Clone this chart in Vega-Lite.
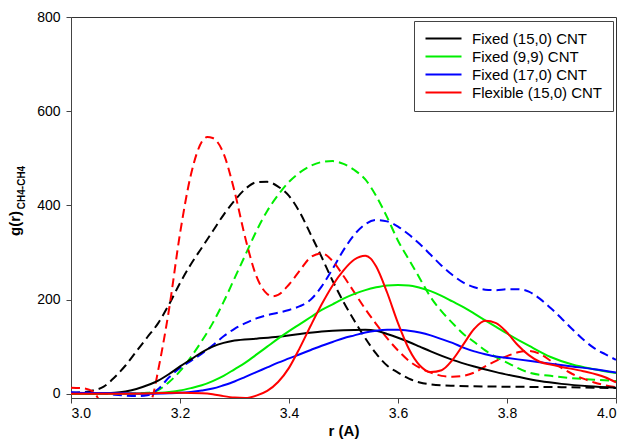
{
  "$schema": "https://vega.github.io/schema/vega-lite/v6.json",
  "width": 545,
  "height": 381,
  "autosize": {"type": "none"},
  "padding": {"left": 71, "top": 17, "right": 11, "bottom": 45},
  "background": "white",
  "config": {
    "font": "Liberation Sans",
    "view": {"stroke": "#333333", "strokeWidth": 1},
    "axis": {"grid": false, "domainColor": "#444444", "tickColor": "#444444", "tickSize": 5, "labelFontSize": 14, "labelColor": "black", "titleColor": "black", "labelFont": "Liberation Sans", "titleFont": "Liberation Sans"}
  },
  "datasets": {
    "curves": [
      {"series": "Fixed (15,0) CNT", "kind": "solid", "r": 3.00, "g": 0},
      {"series": "Fixed (15,0) CNT", "kind": "solid", "r": 3.04, "g": 0},
      {"series": "Fixed (15,0) CNT", "kind": "solid", "r": 3.08, "g": 2},
      {"series": "Fixed (15,0) CNT", "kind": "solid", "r": 3.10, "g": 5},
      {"series": "Fixed (15,0) CNT", "kind": "solid", "r": 3.12, "g": 10},
      {"series": "Fixed (15,0) CNT", "kind": "solid", "r": 3.14, "g": 18},
      {"series": "Fixed (15,0) CNT", "kind": "solid", "r": 3.16, "g": 28},
      {"series": "Fixed (15,0) CNT", "kind": "solid", "r": 3.18, "g": 42},
      {"series": "Fixed (15,0) CNT", "kind": "solid", "r": 3.20, "g": 58},
      {"series": "Fixed (15,0) CNT", "kind": "solid", "r": 3.22, "g": 73},
      {"series": "Fixed (15,0) CNT", "kind": "solid", "r": 3.24, "g": 88},
      {"series": "Fixed (15,0) CNT", "kind": "solid", "r": 3.26, "g": 100},
      {"series": "Fixed (15,0) CNT", "kind": "solid", "r": 3.28, "g": 108},
      {"series": "Fixed (15,0) CNT", "kind": "solid", "r": 3.30, "g": 113},
      {"series": "Fixed (15,0) CNT", "kind": "solid", "r": 3.34, "g": 117},
      {"series": "Fixed (15,0) CNT", "kind": "solid", "r": 3.38, "g": 121},
      {"series": "Fixed (15,0) CNT", "kind": "solid", "r": 3.42, "g": 127},
      {"series": "Fixed (15,0) CNT", "kind": "solid", "r": 3.46, "g": 132},
      {"series": "Fixed (15,0) CNT", "kind": "solid", "r": 3.50, "g": 135},
      {"series": "Fixed (15,0) CNT", "kind": "solid", "r": 3.54, "g": 136},
      {"series": "Fixed (15,0) CNT", "kind": "solid", "r": 3.56, "g": 134},
      {"series": "Fixed (15,0) CNT", "kind": "solid", "r": 3.58, "g": 127},
      {"series": "Fixed (15,0) CNT", "kind": "solid", "r": 3.60, "g": 119},
      {"series": "Fixed (15,0) CNT", "kind": "solid", "r": 3.62, "g": 110},
      {"series": "Fixed (15,0) CNT", "kind": "solid", "r": 3.64, "g": 100},
      {"series": "Fixed (15,0) CNT", "kind": "solid", "r": 3.66, "g": 90},
      {"series": "Fixed (15,0) CNT", "kind": "solid", "r": 3.70, "g": 72},
      {"series": "Fixed (15,0) CNT", "kind": "solid", "r": 3.74, "g": 58},
      {"series": "Fixed (15,0) CNT", "kind": "solid", "r": 3.78, "g": 46},
      {"series": "Fixed (15,0) CNT", "kind": "solid", "r": 3.82, "g": 36},
      {"series": "Fixed (15,0) CNT", "kind": "solid", "r": 3.86, "g": 27},
      {"series": "Fixed (15,0) CNT", "kind": "solid", "r": 3.90, "g": 21},
      {"series": "Fixed (15,0) CNT", "kind": "solid", "r": 3.95, "g": 16},
      {"series": "Fixed (15,0) CNT", "kind": "solid", "r": 4.00, "g": 13},

      {"series": "Fixed (9,9) CNT", "kind": "solid", "r": 3.00, "g": 0},
      {"series": "Fixed (9,9) CNT", "kind": "solid", "r": 3.10, "g": 0},
      {"series": "Fixed (9,9) CNT", "kind": "solid", "r": 3.14, "g": 1},
      {"series": "Fixed (9,9) CNT", "kind": "solid", "r": 3.18, "g": 4},
      {"series": "Fixed (9,9) CNT", "kind": "solid", "r": 3.20, "g": 7},
      {"series": "Fixed (9,9) CNT", "kind": "solid", "r": 3.22, "g": 12},
      {"series": "Fixed (9,9) CNT", "kind": "solid", "r": 3.24, "g": 18},
      {"series": "Fixed (9,9) CNT", "kind": "solid", "r": 3.26, "g": 27},
      {"series": "Fixed (9,9) CNT", "kind": "solid", "r": 3.28, "g": 38},
      {"series": "Fixed (9,9) CNT", "kind": "solid", "r": 3.30, "g": 52},
      {"series": "Fixed (9,9) CNT", "kind": "solid", "r": 3.32, "g": 66},
      {"series": "Fixed (9,9) CNT", "kind": "solid", "r": 3.34, "g": 83},
      {"series": "Fixed (9,9) CNT", "kind": "solid", "r": 3.36, "g": 100},
      {"series": "Fixed (9,9) CNT", "kind": "solid", "r": 3.38, "g": 117},
      {"series": "Fixed (9,9) CNT", "kind": "solid", "r": 3.40, "g": 133},
      {"series": "Fixed (9,9) CNT", "kind": "solid", "r": 3.42, "g": 148},
      {"series": "Fixed (9,9) CNT", "kind": "solid", "r": 3.44, "g": 163},
      {"series": "Fixed (9,9) CNT", "kind": "solid", "r": 3.46, "g": 178},
      {"series": "Fixed (9,9) CNT", "kind": "solid", "r": 3.48, "g": 190},
      {"series": "Fixed (9,9) CNT", "kind": "solid", "r": 3.50, "g": 202},
      {"series": "Fixed (9,9) CNT", "kind": "solid", "r": 3.52, "g": 212},
      {"series": "Fixed (9,9) CNT", "kind": "solid", "r": 3.54, "g": 220},
      {"series": "Fixed (9,9) CNT", "kind": "solid", "r": 3.56, "g": 226},
      {"series": "Fixed (9,9) CNT", "kind": "solid", "r": 3.58, "g": 230},
      {"series": "Fixed (9,9) CNT", "kind": "solid", "r": 3.60, "g": 231},
      {"series": "Fixed (9,9) CNT", "kind": "solid", "r": 3.62, "g": 230},
      {"series": "Fixed (9,9) CNT", "kind": "solid", "r": 3.64, "g": 225},
      {"series": "Fixed (9,9) CNT", "kind": "solid", "r": 3.66, "g": 218},
      {"series": "Fixed (9,9) CNT", "kind": "solid", "r": 3.68, "g": 208},
      {"series": "Fixed (9,9) CNT", "kind": "solid", "r": 3.70, "g": 196},
      {"series": "Fixed (9,9) CNT", "kind": "solid", "r": 3.72, "g": 184},
      {"series": "Fixed (9,9) CNT", "kind": "solid", "r": 3.74, "g": 170},
      {"series": "Fixed (9,9) CNT", "kind": "solid", "r": 3.76, "g": 156},
      {"series": "Fixed (9,9) CNT", "kind": "solid", "r": 3.78, "g": 142},
      {"series": "Fixed (9,9) CNT", "kind": "solid", "r": 3.80, "g": 128},
      {"series": "Fixed (9,9) CNT", "kind": "solid", "r": 3.84, "g": 102},
      {"series": "Fixed (9,9) CNT", "kind": "solid", "r": 3.88, "g": 78},
      {"series": "Fixed (9,9) CNT", "kind": "solid", "r": 3.92, "g": 62},
      {"series": "Fixed (9,9) CNT", "kind": "solid", "r": 3.96, "g": 52},
      {"series": "Fixed (9,9) CNT", "kind": "solid", "r": 4.00, "g": 44},

      {"series": "Fixed (17,0) CNT", "kind": "solid", "r": 3.00, "g": 2},
      {"series": "Fixed (17,0) CNT", "kind": "solid", "r": 3.10, "g": 1},
      {"series": "Fixed (17,0) CNT", "kind": "solid", "r": 3.14, "g": 0},
      {"series": "Fixed (17,0) CNT", "kind": "solid", "r": 3.18, "g": 1},
      {"series": "Fixed (17,0) CNT", "kind": "solid", "r": 3.20, "g": 2},
      {"series": "Fixed (17,0) CNT", "kind": "solid", "r": 3.22, "g": 4},
      {"series": "Fixed (17,0) CNT", "kind": "solid", "r": 3.24, "g": 7},
      {"series": "Fixed (17,0) CNT", "kind": "solid", "r": 3.26, "g": 11},
      {"series": "Fixed (17,0) CNT", "kind": "solid", "r": 3.28, "g": 18},
      {"series": "Fixed (17,0) CNT", "kind": "solid", "r": 3.30, "g": 26},
      {"series": "Fixed (17,0) CNT", "kind": "solid", "r": 3.32, "g": 36},
      {"series": "Fixed (17,0) CNT", "kind": "solid", "r": 3.34, "g": 46},
      {"series": "Fixed (17,0) CNT", "kind": "solid", "r": 3.36, "g": 56},
      {"series": "Fixed (17,0) CNT", "kind": "solid", "r": 3.38, "g": 66},
      {"series": "Fixed (17,0) CNT", "kind": "solid", "r": 3.40, "g": 75},
      {"series": "Fixed (17,0) CNT", "kind": "solid", "r": 3.42, "g": 84},
      {"series": "Fixed (17,0) CNT", "kind": "solid", "r": 3.44, "g": 93},
      {"series": "Fixed (17,0) CNT", "kind": "solid", "r": 3.46, "g": 102},
      {"series": "Fixed (17,0) CNT", "kind": "solid", "r": 3.48, "g": 110},
      {"series": "Fixed (17,0) CNT", "kind": "solid", "r": 3.50, "g": 118},
      {"series": "Fixed (17,0) CNT", "kind": "solid", "r": 3.52, "g": 124},
      {"series": "Fixed (17,0) CNT", "kind": "solid", "r": 3.54, "g": 130},
      {"series": "Fixed (17,0) CNT", "kind": "solid", "r": 3.56, "g": 134},
      {"series": "Fixed (17,0) CNT", "kind": "solid", "r": 3.58, "g": 136},
      {"series": "Fixed (17,0) CNT", "kind": "solid", "r": 3.60, "g": 136},
      {"series": "Fixed (17,0) CNT", "kind": "solid", "r": 3.62, "g": 134},
      {"series": "Fixed (17,0) CNT", "kind": "solid", "r": 3.64, "g": 130},
      {"series": "Fixed (17,0) CNT", "kind": "solid", "r": 3.66, "g": 124},
      {"series": "Fixed (17,0) CNT", "kind": "solid", "r": 3.68, "g": 116},
      {"series": "Fixed (17,0) CNT", "kind": "solid", "r": 3.70, "g": 108},
      {"series": "Fixed (17,0) CNT", "kind": "solid", "r": 3.72, "g": 98},
      {"series": "Fixed (17,0) CNT", "kind": "solid", "r": 3.74, "g": 90},
      {"series": "Fixed (17,0) CNT", "kind": "solid", "r": 3.76, "g": 84},
      {"series": "Fixed (17,0) CNT", "kind": "solid", "r": 3.78, "g": 79},
      {"series": "Fixed (17,0) CNT", "kind": "solid", "r": 3.80, "g": 76},
      {"series": "Fixed (17,0) CNT", "kind": "solid", "r": 3.84, "g": 70},
      {"series": "Fixed (17,0) CNT", "kind": "solid", "r": 3.88, "g": 64},
      {"series": "Fixed (17,0) CNT", "kind": "solid", "r": 3.92, "g": 58},
      {"series": "Fixed (17,0) CNT", "kind": "solid", "r": 3.96, "g": 52},
      {"series": "Fixed (17,0) CNT", "kind": "solid", "r": 4.00, "g": 45},

      {"series": "Flexible (15,0) CNT", "kind": "solid", "r": 3.00, "g": 0},
      {"series": "Flexible (15,0) CNT", "kind": "solid", "r": 3.10, "g": 0},
      {"series": "Flexible (15,0) CNT", "kind": "solid", "r": 3.20, "g": 2},
      {"series": "Flexible (15,0) CNT", "kind": "solid", "r": 3.24, "g": 1},
      {"series": "Flexible (15,0) CNT", "kind": "solid", "r": 3.26, "g": -1},
      {"series": "Flexible (15,0) CNT", "kind": "solid", "r": 3.28, "g": -5},
      {"series": "Flexible (15,0) CNT", "kind": "solid", "r": 3.30, "g": -8},
      {"series": "Flexible (15,0) CNT", "kind": "solid", "r": 3.32, "g": -9},
      {"series": "Flexible (15,0) CNT", "kind": "solid", "r": 3.34, "g": -4},
      {"series": "Flexible (15,0) CNT", "kind": "solid", "r": 3.36, "g": 6},
      {"series": "Flexible (15,0) CNT", "kind": "solid", "r": 3.38, "g": 25},
      {"series": "Flexible (15,0) CNT", "kind": "solid", "r": 3.40, "g": 55},
      {"series": "Flexible (15,0) CNT", "kind": "solid", "r": 3.42, "g": 98},
      {"series": "Flexible (15,0) CNT", "kind": "solid", "r": 3.44, "g": 145},
      {"series": "Flexible (15,0) CNT", "kind": "solid", "r": 3.46, "g": 190},
      {"series": "Flexible (15,0) CNT", "kind": "solid", "r": 3.48, "g": 230},
      {"series": "Flexible (15,0) CNT", "kind": "solid", "r": 3.50, "g": 262},
      {"series": "Flexible (15,0) CNT", "kind": "solid", "r": 3.52, "g": 285},
      {"series": "Flexible (15,0) CNT", "kind": "solid", "r": 3.54, "g": 293},
      {"series": "Flexible (15,0) CNT", "kind": "solid", "r": 3.55, "g": 287},
      {"series": "Flexible (15,0) CNT", "kind": "solid", "r": 3.56, "g": 270},
      {"series": "Flexible (15,0) CNT", "kind": "solid", "r": 3.58, "g": 215},
      {"series": "Flexible (15,0) CNT", "kind": "solid", "r": 3.60, "g": 150},
      {"series": "Flexible (15,0) CNT", "kind": "solid", "r": 3.62, "g": 95},
      {"series": "Flexible (15,0) CNT", "kind": "solid", "r": 3.64, "g": 60},
      {"series": "Flexible (15,0) CNT", "kind": "solid", "r": 3.66, "g": 46},
      {"series": "Flexible (15,0) CNT", "kind": "solid", "r": 3.68, "g": 50},
      {"series": "Flexible (15,0) CNT", "kind": "solid", "r": 3.70, "g": 72},
      {"series": "Flexible (15,0) CNT", "kind": "solid", "r": 3.72, "g": 105},
      {"series": "Flexible (15,0) CNT", "kind": "solid", "r": 3.74, "g": 138},
      {"series": "Flexible (15,0) CNT", "kind": "solid", "r": 3.76, "g": 155},
      {"series": "Flexible (15,0) CNT", "kind": "solid", "r": 3.78, "g": 150},
      {"series": "Flexible (15,0) CNT", "kind": "solid", "r": 3.80, "g": 130},
      {"series": "Flexible (15,0) CNT", "kind": "solid", "r": 3.82, "g": 103},
      {"series": "Flexible (15,0) CNT", "kind": "solid", "r": 3.84, "g": 82},
      {"series": "Flexible (15,0) CNT", "kind": "solid", "r": 3.86, "g": 68},
      {"series": "Flexible (15,0) CNT", "kind": "solid", "r": 3.88, "g": 62},
      {"series": "Flexible (15,0) CNT", "kind": "solid", "r": 3.90, "g": 57},
      {"series": "Flexible (15,0) CNT", "kind": "solid", "r": 3.94, "g": 48},
      {"series": "Flexible (15,0) CNT", "kind": "solid", "r": 3.98, "g": 35},
      {"series": "Flexible (15,0) CNT", "kind": "solid", "r": 4.00, "g": 24},

      {"series": "Fixed (15,0) CNT", "kind": "dashed", "r": 3.00, "g": 2},
      {"series": "Fixed (15,0) CNT", "kind": "dashed", "r": 3.02, "g": 3},
      {"series": "Fixed (15,0) CNT", "kind": "dashed", "r": 3.04, "g": 7},
      {"series": "Fixed (15,0) CNT", "kind": "dashed", "r": 3.06, "g": 15},
      {"series": "Fixed (15,0) CNT", "kind": "dashed", "r": 3.08, "g": 35},
      {"series": "Fixed (15,0) CNT", "kind": "dashed", "r": 3.10, "g": 60},
      {"series": "Fixed (15,0) CNT", "kind": "dashed", "r": 3.12, "g": 90},
      {"series": "Fixed (15,0) CNT", "kind": "dashed", "r": 3.14, "g": 120},
      {"series": "Fixed (15,0) CNT", "kind": "dashed", "r": 3.16, "g": 150},
      {"series": "Fixed (15,0) CNT", "kind": "dashed", "r": 3.18, "g": 190},
      {"series": "Fixed (15,0) CNT", "kind": "dashed", "r": 3.20, "g": 235},
      {"series": "Fixed (15,0) CNT", "kind": "dashed", "r": 3.22, "g": 275},
      {"series": "Fixed (15,0) CNT", "kind": "dashed", "r": 3.24, "g": 310},
      {"series": "Fixed (15,0) CNT", "kind": "dashed", "r": 3.26, "g": 345},
      {"series": "Fixed (15,0) CNT", "kind": "dashed", "r": 3.28, "g": 380},
      {"series": "Fixed (15,0) CNT", "kind": "dashed", "r": 3.30, "g": 410},
      {"series": "Fixed (15,0) CNT", "kind": "dashed", "r": 3.32, "g": 435},
      {"series": "Fixed (15,0) CNT", "kind": "dashed", "r": 3.34, "g": 449},
      {"series": "Fixed (15,0) CNT", "kind": "dashed", "r": 3.36, "g": 450},
      {"series": "Fixed (15,0) CNT", "kind": "dashed", "r": 3.38, "g": 440},
      {"series": "Fixed (15,0) CNT", "kind": "dashed", "r": 3.40, "g": 420},
      {"series": "Fixed (15,0) CNT", "kind": "dashed", "r": 3.42, "g": 385},
      {"series": "Fixed (15,0) CNT", "kind": "dashed", "r": 3.44, "g": 338},
      {"series": "Fixed (15,0) CNT", "kind": "dashed", "r": 3.46, "g": 290},
      {"series": "Fixed (15,0) CNT", "kind": "dashed", "r": 3.48, "g": 240},
      {"series": "Fixed (15,0) CNT", "kind": "dashed", "r": 3.50, "g": 195},
      {"series": "Fixed (15,0) CNT", "kind": "dashed", "r": 3.52, "g": 155},
      {"series": "Fixed (15,0) CNT", "kind": "dashed", "r": 3.54, "g": 118},
      {"series": "Fixed (15,0) CNT", "kind": "dashed", "r": 3.56, "g": 85},
      {"series": "Fixed (15,0) CNT", "kind": "dashed", "r": 3.58, "g": 60},
      {"series": "Fixed (15,0) CNT", "kind": "dashed", "r": 3.60, "g": 45},
      {"series": "Fixed (15,0) CNT", "kind": "dashed", "r": 3.62, "g": 32},
      {"series": "Fixed (15,0) CNT", "kind": "dashed", "r": 3.64, "g": 24},
      {"series": "Fixed (15,0) CNT", "kind": "dashed", "r": 3.66, "g": 20},
      {"series": "Fixed (15,0) CNT", "kind": "dashed", "r": 3.70, "g": 17},
      {"series": "Fixed (15,0) CNT", "kind": "dashed", "r": 3.80, "g": 15},
      {"series": "Fixed (15,0) CNT", "kind": "dashed", "r": 3.90, "g": 14},
      {"series": "Fixed (15,0) CNT", "kind": "dashed", "r": 4.00, "g": 12},

      {"series": "Fixed (9,9) CNT", "kind": "dashed", "r": 3.00, "g": 0},
      {"series": "Fixed (9,9) CNT", "kind": "dashed", "r": 3.10, "g": 0},
      {"series": "Fixed (9,9) CNT", "kind": "dashed", "r": 3.14, "g": 2},
      {"series": "Fixed (9,9) CNT", "kind": "dashed", "r": 3.16, "g": 8},
      {"series": "Fixed (9,9) CNT", "kind": "dashed", "r": 3.18, "g": 25},
      {"series": "Fixed (9,9) CNT", "kind": "dashed", "r": 3.20, "g": 48},
      {"series": "Fixed (9,9) CNT", "kind": "dashed", "r": 3.22, "g": 78},
      {"series": "Fixed (9,9) CNT", "kind": "dashed", "r": 3.24, "g": 112},
      {"series": "Fixed (9,9) CNT", "kind": "dashed", "r": 3.26, "g": 150},
      {"series": "Fixed (9,9) CNT", "kind": "dashed", "r": 3.28, "g": 195},
      {"series": "Fixed (9,9) CNT", "kind": "dashed", "r": 3.30, "g": 245},
      {"series": "Fixed (9,9) CNT", "kind": "dashed", "r": 3.32, "g": 295},
      {"series": "Fixed (9,9) CNT", "kind": "dashed", "r": 3.34, "g": 345},
      {"series": "Fixed (9,9) CNT", "kind": "dashed", "r": 3.36, "g": 388},
      {"series": "Fixed (9,9) CNT", "kind": "dashed", "r": 3.38, "g": 422},
      {"series": "Fixed (9,9) CNT", "kind": "dashed", "r": 3.40, "g": 450},
      {"series": "Fixed (9,9) CNT", "kind": "dashed", "r": 3.42, "g": 470},
      {"series": "Fixed (9,9) CNT", "kind": "dashed", "r": 3.44, "g": 484},
      {"series": "Fixed (9,9) CNT", "kind": "dashed", "r": 3.46, "g": 492},
      {"series": "Fixed (9,9) CNT", "kind": "dashed", "r": 3.48, "g": 494},
      {"series": "Fixed (9,9) CNT", "kind": "dashed", "r": 3.50, "g": 488},
      {"series": "Fixed (9,9) CNT", "kind": "dashed", "r": 3.52, "g": 475},
      {"series": "Fixed (9,9) CNT", "kind": "dashed", "r": 3.54, "g": 455},
      {"series": "Fixed (9,9) CNT", "kind": "dashed", "r": 3.56, "g": 420},
      {"series": "Fixed (9,9) CNT", "kind": "dashed", "r": 3.58, "g": 375},
      {"series": "Fixed (9,9) CNT", "kind": "dashed", "r": 3.60, "g": 325},
      {"series": "Fixed (9,9) CNT", "kind": "dashed", "r": 3.62, "g": 285},
      {"series": "Fixed (9,9) CNT", "kind": "dashed", "r": 3.64, "g": 245},
      {"series": "Fixed (9,9) CNT", "kind": "dashed", "r": 3.66, "g": 205},
      {"series": "Fixed (9,9) CNT", "kind": "dashed", "r": 3.68, "g": 175},
      {"series": "Fixed (9,9) CNT", "kind": "dashed", "r": 3.70, "g": 150},
      {"series": "Fixed (9,9) CNT", "kind": "dashed", "r": 3.72, "g": 127},
      {"series": "Fixed (9,9) CNT", "kind": "dashed", "r": 3.74, "g": 110},
      {"series": "Fixed (9,9) CNT", "kind": "dashed", "r": 3.76, "g": 92},
      {"series": "Fixed (9,9) CNT", "kind": "dashed", "r": 3.78, "g": 78},
      {"series": "Fixed (9,9) CNT", "kind": "dashed", "r": 3.80, "g": 66},
      {"series": "Fixed (9,9) CNT", "kind": "dashed", "r": 3.84, "g": 45},
      {"series": "Fixed (9,9) CNT", "kind": "dashed", "r": 3.88, "g": 38},
      {"series": "Fixed (9,9) CNT", "kind": "dashed", "r": 3.92, "g": 33},
      {"series": "Fixed (9,9) CNT", "kind": "dashed", "r": 3.96, "g": 30},
      {"series": "Fixed (9,9) CNT", "kind": "dashed", "r": 4.00, "g": 27},

      {"series": "Fixed (17,0) CNT", "kind": "dashed", "r": 3.00, "g": 3},
      {"series": "Fixed (17,0) CNT", "kind": "dashed", "r": 3.04, "g": 2},
      {"series": "Fixed (17,0) CNT", "kind": "dashed", "r": 3.08, "g": -2},
      {"series": "Fixed (17,0) CNT", "kind": "dashed", "r": 3.10, "g": -4},
      {"series": "Fixed (17,0) CNT", "kind": "dashed", "r": 3.12, "g": -5},
      {"series": "Fixed (17,0) CNT", "kind": "dashed", "r": 3.14, "g": -3},
      {"series": "Fixed (17,0) CNT", "kind": "dashed", "r": 3.16, "g": 10},
      {"series": "Fixed (17,0) CNT", "kind": "dashed", "r": 3.18, "g": 35},
      {"series": "Fixed (17,0) CNT", "kind": "dashed", "r": 3.20, "g": 55},
      {"series": "Fixed (17,0) CNT", "kind": "dashed", "r": 3.22, "g": 70},
      {"series": "Fixed (17,0) CNT", "kind": "dashed", "r": 3.24, "g": 85},
      {"series": "Fixed (17,0) CNT", "kind": "dashed", "r": 3.26, "g": 103},
      {"series": "Fixed (17,0) CNT", "kind": "dashed", "r": 3.28, "g": 122},
      {"series": "Fixed (17,0) CNT", "kind": "dashed", "r": 3.30, "g": 138},
      {"series": "Fixed (17,0) CNT", "kind": "dashed", "r": 3.32, "g": 150},
      {"series": "Fixed (17,0) CNT", "kind": "dashed", "r": 3.34, "g": 160},
      {"series": "Fixed (17,0) CNT", "kind": "dashed", "r": 3.36, "g": 167},
      {"series": "Fixed (17,0) CNT", "kind": "dashed", "r": 3.38, "g": 172},
      {"series": "Fixed (17,0) CNT", "kind": "dashed", "r": 3.40, "g": 178},
      {"series": "Fixed (17,0) CNT", "kind": "dashed", "r": 3.42, "g": 186},
      {"series": "Fixed (17,0) CNT", "kind": "dashed", "r": 3.44, "g": 200},
      {"series": "Fixed (17,0) CNT", "kind": "dashed", "r": 3.46, "g": 228},
      {"series": "Fixed (17,0) CNT", "kind": "dashed", "r": 3.48, "g": 265},
      {"series": "Fixed (17,0) CNT", "kind": "dashed", "r": 3.50, "g": 305},
      {"series": "Fixed (17,0) CNT", "kind": "dashed", "r": 3.52, "g": 338},
      {"series": "Fixed (17,0) CNT", "kind": "dashed", "r": 3.54, "g": 360},
      {"series": "Fixed (17,0) CNT", "kind": "dashed", "r": 3.56, "g": 369},
      {"series": "Fixed (17,0) CNT", "kind": "dashed", "r": 3.58, "g": 366},
      {"series": "Fixed (17,0) CNT", "kind": "dashed", "r": 3.60, "g": 355},
      {"series": "Fixed (17,0) CNT", "kind": "dashed", "r": 3.62, "g": 338},
      {"series": "Fixed (17,0) CNT", "kind": "dashed", "r": 3.64, "g": 318},
      {"series": "Fixed (17,0) CNT", "kind": "dashed", "r": 3.66, "g": 295},
      {"series": "Fixed (17,0) CNT", "kind": "dashed", "r": 3.68, "g": 272},
      {"series": "Fixed (17,0) CNT", "kind": "dashed", "r": 3.70, "g": 252},
      {"series": "Fixed (17,0) CNT", "kind": "dashed", "r": 3.72, "g": 236},
      {"series": "Fixed (17,0) CNT", "kind": "dashed", "r": 3.74, "g": 226},
      {"series": "Fixed (17,0) CNT", "kind": "dashed", "r": 3.76, "g": 221},
      {"series": "Fixed (17,0) CNT", "kind": "dashed", "r": 3.78, "g": 220},
      {"series": "Fixed (17,0) CNT", "kind": "dashed", "r": 3.80, "g": 222},
      {"series": "Fixed (17,0) CNT", "kind": "dashed", "r": 3.82, "g": 222},
      {"series": "Fixed (17,0) CNT", "kind": "dashed", "r": 3.84, "g": 217},
      {"series": "Fixed (17,0) CNT", "kind": "dashed", "r": 3.86, "g": 202},
      {"series": "Fixed (17,0) CNT", "kind": "dashed", "r": 3.88, "g": 182},
      {"series": "Fixed (17,0) CNT", "kind": "dashed", "r": 3.90, "g": 160},
      {"series": "Fixed (17,0) CNT", "kind": "dashed", "r": 3.92, "g": 137},
      {"series": "Fixed (17,0) CNT", "kind": "dashed", "r": 3.94, "g": 115},
      {"series": "Fixed (17,0) CNT", "kind": "dashed", "r": 3.96, "g": 97},
      {"series": "Fixed (17,0) CNT", "kind": "dashed", "r": 3.98, "g": 84},
      {"series": "Fixed (17,0) CNT", "kind": "dashed", "r": 4.00, "g": 72},

      {"series": "Flexible (15,0) CNT", "kind": "dashed", "r": 3.00, "g": 13},
      {"series": "Flexible (15,0) CNT", "kind": "dashed", "r": 3.02, "g": 12},
      {"series": "Flexible (15,0) CNT", "kind": "dashed", "r": 3.04, "g": 5},
      {"series": "Flexible (15,0) CNT", "kind": "dashed", "r": 3.05, "g": -10},
      {"series": "Flexible (15,0) CNT", "kind": "dashed", "r": 3.06, "g": -30},
      {"series": "Flexible (15,0) CNT", "kind": "dashed", "r": 3.14, "g": -30},
      {"series": "Flexible (15,0) CNT", "kind": "dashed", "r": 3.15, "g": -5},
      {"series": "Flexible (15,0) CNT", "kind": "dashed", "r": 3.16, "g": 50},
      {"series": "Flexible (15,0) CNT", "kind": "dashed", "r": 3.18, "g": 180},
      {"series": "Flexible (15,0) CNT", "kind": "dashed", "r": 3.20, "g": 340},
      {"series": "Flexible (15,0) CNT", "kind": "dashed", "r": 3.22, "g": 465},
      {"series": "Flexible (15,0) CNT", "kind": "dashed", "r": 3.24, "g": 535},
      {"series": "Flexible (15,0) CNT", "kind": "dashed", "r": 3.25, "g": 545},
      {"series": "Flexible (15,0) CNT", "kind": "dashed", "r": 3.26, "g": 543},
      {"series": "Flexible (15,0) CNT", "kind": "dashed", "r": 3.28, "g": 510},
      {"series": "Flexible (15,0) CNT", "kind": "dashed", "r": 3.30, "g": 430},
      {"series": "Flexible (15,0) CNT", "kind": "dashed", "r": 3.32, "g": 330},
      {"series": "Flexible (15,0) CNT", "kind": "dashed", "r": 3.34, "g": 250},
      {"series": "Flexible (15,0) CNT", "kind": "dashed", "r": 3.36, "g": 212},
      {"series": "Flexible (15,0) CNT", "kind": "dashed", "r": 3.37, "g": 207},
      {"series": "Flexible (15,0) CNT", "kind": "dashed", "r": 3.38, "g": 210},
      {"series": "Flexible (15,0) CNT", "kind": "dashed", "r": 3.40, "g": 232},
      {"series": "Flexible (15,0) CNT", "kind": "dashed", "r": 3.42, "g": 262},
      {"series": "Flexible (15,0) CNT", "kind": "dashed", "r": 3.44, "g": 290},
      {"series": "Flexible (15,0) CNT", "kind": "dashed", "r": 3.46, "g": 298},
      {"series": "Flexible (15,0) CNT", "kind": "dashed", "r": 3.48, "g": 282},
      {"series": "Flexible (15,0) CNT", "kind": "dashed", "r": 3.50, "g": 250},
      {"series": "Flexible (15,0) CNT", "kind": "dashed", "r": 3.52, "g": 215},
      {"series": "Flexible (15,0) CNT", "kind": "dashed", "r": 3.54, "g": 180},
      {"series": "Flexible (15,0) CNT", "kind": "dashed", "r": 3.56, "g": 148},
      {"series": "Flexible (15,0) CNT", "kind": "dashed", "r": 3.58, "g": 118},
      {"series": "Flexible (15,0) CNT", "kind": "dashed", "r": 3.60, "g": 92},
      {"series": "Flexible (15,0) CNT", "kind": "dashed", "r": 3.62, "g": 70},
      {"series": "Flexible (15,0) CNT", "kind": "dashed", "r": 3.64, "g": 55},
      {"series": "Flexible (15,0) CNT", "kind": "dashed", "r": 3.66, "g": 45},
      {"series": "Flexible (15,0) CNT", "kind": "dashed", "r": 3.68, "g": 38},
      {"series": "Flexible (15,0) CNT", "kind": "dashed", "r": 3.70, "g": 36},
      {"series": "Flexible (15,0) CNT", "kind": "dashed", "r": 3.72, "g": 38},
      {"series": "Flexible (15,0) CNT", "kind": "dashed", "r": 3.74, "g": 45},
      {"series": "Flexible (15,0) CNT", "kind": "dashed", "r": 3.76, "g": 58},
      {"series": "Flexible (15,0) CNT", "kind": "dashed", "r": 3.78, "g": 70},
      {"series": "Flexible (15,0) CNT", "kind": "dashed", "r": 3.80, "g": 80},
      {"series": "Flexible (15,0) CNT", "kind": "dashed", "r": 3.82, "g": 88},
      {"series": "Flexible (15,0) CNT", "kind": "dashed", "r": 3.84, "g": 91},
      {"series": "Flexible (15,0) CNT", "kind": "dashed", "r": 3.86, "g": 85},
      {"series": "Flexible (15,0) CNT", "kind": "dashed", "r": 3.88, "g": 70},
      {"series": "Flexible (15,0) CNT", "kind": "dashed", "r": 3.90, "g": 55},
      {"series": "Flexible (15,0) CNT", "kind": "dashed", "r": 3.92, "g": 42},
      {"series": "Flexible (15,0) CNT", "kind": "dashed", "r": 3.94, "g": 32},
      {"series": "Flexible (15,0) CNT", "kind": "dashed", "r": 3.96, "g": 24},
      {"series": "Flexible (15,0) CNT", "kind": "dashed", "r": 3.98, "g": 18},
      {"series": "Flexible (15,0) CNT", "kind": "dashed", "r": 4.00, "g": 14}
    ]
  },
  "data": {"name": "curves"},
  "layer": [
    {
      "transform": [{"filter": "datum.kind === 'dashed'"}],
      "mark": {"type": "line", "interpolate": "monotone", "strokeWidth": 2, "strokeDash": [9, 5], "clip": true},
      "encoding": {
        "x": {"field": "r", "type": "quantitative", "scale": {"domain": [3.0, 4.0], "nice": false, "zero": false},
              "axis": {"values": [3.0, 3.2, 3.4, 3.6, 3.8, 4.0], "format": ".1f", "title": "r (A)", "titleFontSize": 15, "titleFontWeight": "bold", "titlePadding": 3, "labelPadding": 3}},
        "y": {"field": "g", "type": "quantitative", "scale": {"domain": [-9, 800], "nice": false, "zero": false},
              "axis": {"orient": "left", "labels": false, "ticks": false, "domain": false, "title": "CH4-CH4", "titleFontSize": 10, "titleFontWeight": "bold", "titleAngle": -90, "titleX": -47, "titleY": 170, "titleAlign": "center", "titleBaseline": "alphabetic"}},
        "color": {"field": "series", "type": "nominal",
                  "scale": {"domain": ["Fixed (15,0) CNT", "Fixed (9,9) CNT", "Fixed (17,0) CNT", "Flexible (15,0) CNT"], "range": ["#000000", "#00ee00", "#0000ff", "#ff0000"]}},
        "detail": {"field": "series"},
        "order": {"field": "r", "type": "quantitative"}
      }
    },
    {
      "transform": [{"filter": "datum.kind === 'solid'"}],
      "mark": {"type": "line", "interpolate": "monotone", "strokeWidth": 2, "clip": true},
      "encoding": {
        "x": {"field": "r", "type": "quantitative", "scale": {"domain": [3.0, 4.0], "nice": false, "zero": false}},
        "y": {"field": "g", "type": "quantitative", "scale": {"domain": [-9, 800], "nice": false, "zero": false},
              "axis": {"orient": "left", "values": [0, 200, 400, 600, 800], "labelPadding": 6, "title": "g(r)", "titleFontSize": 15, "titleFontWeight": "bold", "titleAngle": -90, "titleX": -52, "titleY": 206, "titleAlign": "center", "titleBaseline": "alphabetic"}},
        "color": {"field": "series", "type": "nominal",
                  "scale": {"domain": ["Fixed (15,0) CNT", "Fixed (9,9) CNT", "Fixed (17,0) CNT", "Flexible (15,0) CNT"], "range": ["#000000", "#00ee00", "#0000ff", "#ff0000"]},
                  "legend": {"title": null, "orient": "none", "legendX": 343, "legendY": 4, "symbolType": "M-3,0H3", "symbolSize": 144, "symbolOffset": 12, "symbolStrokeWidth": 2, "labelFontSize": 15, "labelFont": "Liberation Sans", "labelColor": "black", "labelOffset": 21, "strokeColor": "#444444", "fillColor": "white", "padding": 10, "rowPadding": 2, "offset": 0}},
        "detail": {"field": "series"},
        "order": {"field": "r", "type": "quantitative"}
      }
    }
  ],
  "resolve": {"scale": {"y": "independent"}, "axis": {"y": "independent"}}
}
